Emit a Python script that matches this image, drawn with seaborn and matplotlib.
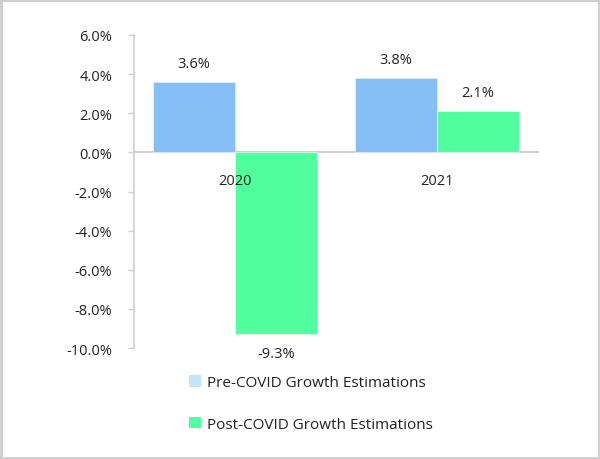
import matplotlib
matplotlib.use("Agg")
import matplotlib.pyplot as plt
import pandas as pd
import seaborn as sns
from matplotlib.patches import Patch

years = ["2020", "2021"]
series = ["Pre-COVID Growth Estimations", "Post-COVID Growth Estimations"]
pre_covid = [3.6, 3.8]
post_covid = [-9.3, 2.1]
y_ticks = [6, 4, 2, 0, -2, -4, -6, -8, -10]

bar_colors = ["#85bff5", "#52ff9f"]
legend_colors = ["#bfe6ff", "#52ff9f"]

df = pd.DataFrame({
    "year": years * 2,
    "series": [series[0]] * 2 + [series[1]] * 2,
    "value": pre_covid + post_covid,
})

sns.set_theme(style="white")
plt.rcParams["font.family"] = ["Open Sans", "DejaVu Sans"]

fig = plt.figure(figsize=(6, 4.6), dpi=100)
fig.patch.set_edgecolor("#d0d0d0")
fig.patch.set_linewidth(2.5)
ax = fig.add_axes([0.223, 0.241, 0.674, 0.681])

sns.barplot(data=df, x="year", y="value", hue="series", order=years, hue_order=series,
            palette=bar_colors, width=0.81, saturation=1, legend=False, ax=ax,
            edgecolor="#e6f2fb", linewidth=0.5)
ax.set_axisbelow(False)

for container in ax.containers:
    ax.bar_label(container, labels=[f"{v:.1f}%" for v in container.datavalues],
                 padding=8, fontsize=10.5, color="#222222")

ax.set_ylim(-10, 6)
ax.set_xlim(-0.5, 1.5)
ax.set_yticks(y_ticks)
ax.set_yticklabels([f"{t:.1f}%" for t in y_ticks])
ax.set_xlabel("")
ax.set_ylabel("")

for side in ["top", "right"]:
    ax.spines[side].set_visible(False)
ax.spines["left"].set_color("#d0d0d0")
ax.spines["bottom"].set_color("#d0d0d0")
ax.spines["bottom"].set_linewidth(1.5)
ax.spines["bottom"].set_position(("data", 0))
ax.spines["bottom"].set_zorder(0.5)

ax.tick_params(axis="y", length=4.5, width=1, color="#d0d0d0", pad=11, labelsize=10.5,
               labelcolor="#222222", left=True)
ax.tick_params(axis="x", length=0, pad=15, labelsize=10.5, labelcolor="#222222")

handles = [Patch(facecolor=c, edgecolor="none") for c in legend_colors]
fig.legend(handles, series, loc="upper left", bbox_to_anchor=(0.305, 0.195),
           frameon=False, fontsize=11, handlelength=0.75, handleheight=0.75,
           handletextpad=0.45, labelspacing=1.75, borderaxespad=0, labelcolor="#222222")

fig.savefig("out.png", dpi=100)
